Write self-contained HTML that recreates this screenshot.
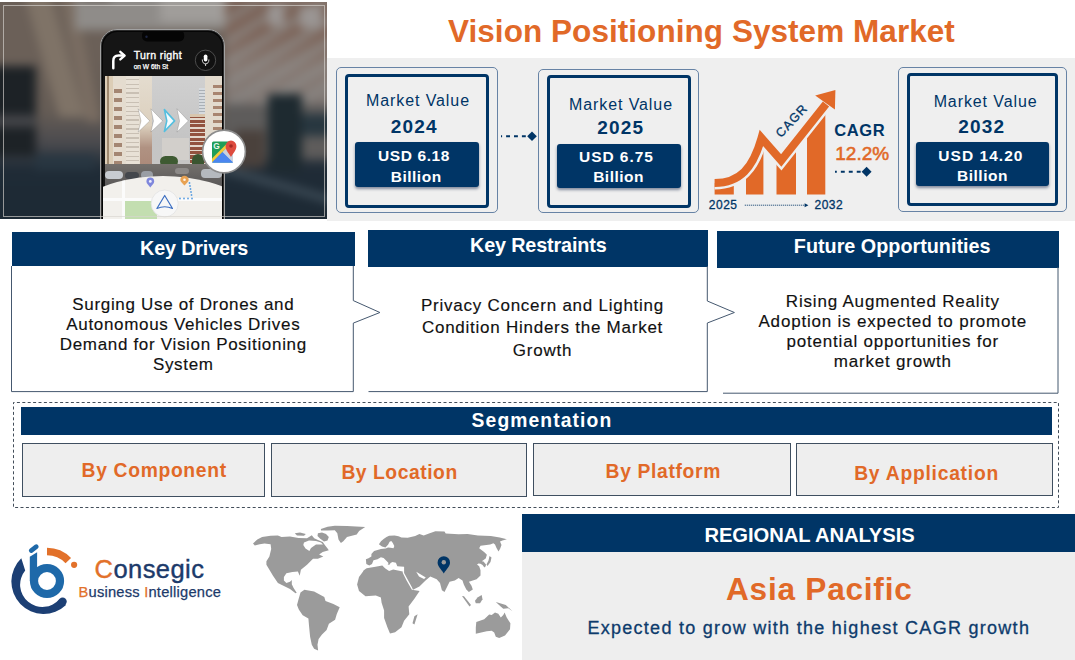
<!DOCTYPE html>
<html><head><meta charset="utf-8">
<style>
*{margin:0;padding:0;box-sizing:border-box}
html,body{width:1075px;height:660px;overflow:hidden;background:#fff}
body{position:relative;font-family:"Liberation Sans",sans-serif}
.a{position:absolute}
.t{position:absolute;line-height:1;white-space:nowrap}
.c{position:absolute;line-height:1;white-space:nowrap;text-align:center;width:300px}
.nv{color:#003566}
.or{color:#e16928}
.b{font-weight:700}
.hdr{position:absolute;background:#003566}
.ob{position:absolute;border:1px solid #6783a5;border-radius:5px}
.ib{position:absolute;border:3.4px solid #003566;border-radius:4px}
.vb{position:absolute;background:#003566;border-radius:3px;box-shadow:0 2px 3px rgba(0,20,60,.45)}
.seg{position:absolute;background:#eeeeee;border:1px solid #3f4f60}
.body{position:absolute;font-size:17px;letter-spacing:.68px;color:#111;text-align:center;white-space:nowrap;-webkit-text-stroke:.15px #111}
</style></head><body>

<!-- PHOTO -->
<div class="a" id="photo" style="left:0;top:1.5px;width:327px;height:217.5px;overflow:hidden;background:#4f4a47">
 <div class="a" style="left:-20px;top:-20px;width:370px;height:260px;filter:blur(5px)">
  <div class="a" style="left:0;top:0;width:370px;height:260px;background:linear-gradient(180deg,#5f544b 0,#6b6058 8%,#6b6058 28%,#655c55 50%,#4a4a4e 62%,#1f2b36 72%,#1b2833 100%)"></div>
  <div class="a" style="left:60px;top:0;width:26px;height:135px;background:#7f7367;transform:skewX(16deg)"></div>
  <div class="a" style="left:92px;top:0;width:14px;height:140px;background:#7a6d62;transform:skewX(12deg)"></div>
  <div class="a" style="left:0;top:84px;width:56px;height:90px;background:#1d2226"></div>
  <div class="a" style="left:10px;top:133px;width:45px;height:12px;background:#45464a"></div>
  <div class="a" style="left:95px;top:0;width:175px;height:48px;background:#8f8c89"></div>
  <div class="a" style="left:100px;top:0;width:30px;height:18px;background:#5a4e46"></div>
  <div class="a" style="left:180px;top:0;width:80px;height:40px;background:#a09d9a"></div>
  <div class="a" style="left:245px;top:0;width:125px;height:125px;background:repeating-linear-gradient(-32deg,#7c6054 0,#7c6054 7px,#8b837e 9px,#8b837e 16px,#7c6054 18px)"></div>
  <div class="a" style="left:245px;top:0;width:125px;height:125px;background:linear-gradient(180deg,rgba(120,100,90,.5) 0,rgba(120,100,90,.2) 40%,rgba(140,136,133,.6) 70%,rgba(130,127,125,.8) 100%)"></div>
  <div class="a" style="left:288px;top:22px;width:16px;height:22px;background:#9a9593"></div>
  <div class="a" style="left:320px;top:24px;width:22px;height:22px;background:#9a9593"></div>
  <div class="a" style="left:245px;top:122px;width:125px;height:55px;background:#5e5c5b"></div>
  <div class="a" style="left:288px;top:112px;width:34px;height:78px;background:#1e2a30"></div>
  <div class="a" style="left:322px;top:132px;width:48px;height:22px;background:#283740"></div>
  <div class="a" style="left:255px;top:148px;width:30px;height:38px;background:#4a413c"></div>
  <div class="a" style="left:235px;top:200px;width:135px;height:8px;background:#3b4954;transform:rotate(16deg)"></div>
  <div class="a" style="left:55px;top:172px;width:60px;height:16px;background:#283641"></div>
 </div>
  <!-- phone -->
 <div class="a" style="left:99.5px;top:27px;width:125.5px;height:200px;border-radius:17px 17px 0 0;background:#050505;border:1.2px solid #a2a2a2;box-shadow:inset 0 0 0 .8px #3a3a3a;overflow:hidden">
  <div class="a" style="left:2.3px;top:2.3px;width:119px;height:190px;border-radius:14.5px 14.5px 0 0;background:#151515;overflow:hidden">
   <!-- street -->
   <div class="a" style="left:2px;top:44.5px;width:117px;height:110px;background:linear-gradient(180deg,#d0d0d0,#c4c4c4 60%,#c8c6c4);overflow:hidden;filter:blur(.5px)">
    <div class="a" style="left:0;top:0;width:8px;height:110px;background:#dccdb6"></div>
    <div class="a" style="left:2px;top:0;width:2px;height:110px;background:#a08a70"></div>
    <div class="a" style="left:8px;top:0;width:27px;height:110px;background:#e4dccf"></div>
    <div class="a" style="left:9px;top:8px;width:8px;height:85px;background:repeating-linear-gradient(180deg,#e6dccf 0,#e6dccf 5px,#a48672 5px,#a48672 9px)"></div>
    <div class="a" style="left:21px;top:0;width:13px;height:110px;background:repeating-linear-gradient(180deg,#e8e1d6 0,#e8e1d6 3px,#c9c0b4 3px,#c9c0b4 4.5px)"></div>
    <div class="a" style="left:35px;top:0;width:12px;height:110px;background:linear-gradient(180deg,#e4dccf 0,#dcd0be 45%,#b09282 65%,#a68070 100%)"></div>
    <div class="a" style="left:94px;top:12px;width:7px;height:28px;background:repeating-linear-gradient(180deg,#d6dade 0,#d6dade 2px,#aab0b6 2px,#aab0b6 3px)"></div>
    <div class="a" style="left:57px;top:62px;width:27px;height:22px;background:#d2cfcb"></div>
    <div class="a" style="left:85px;top:39px;width:15px;height:50px;background:repeating-linear-gradient(180deg,#93533f 0,#93533f 3px,#e4d8cc 3px,#e4d8cc 4.5px)"></div>
    <div class="a" style="left:85px;top:38px;width:15px;height:3px;background:#d8c6ae"></div>
    <div class="a" style="left:100px;top:0;width:17px;height:100px;background:#e2dacd"></div>
    <div class="a" style="left:108px;top:5px;width:9px;height:85px;background:repeating-linear-gradient(180deg,#e2dacd 0,#e2dacd 4px,#a88570 4px,#a88570 7px)"></div>
    <div class="a" style="left:55px;top:80px;width:18px;height:11px;border-radius:6px;background:#3e5a32"></div>
    <div class="a" style="left:87px;top:78px;width:12px;height:16px;border-radius:6px;background:#3b5530"></div>
    <div class="a" style="left:0;top:88px;width:117px;height:22px;background:linear-gradient(180deg,#74706c,#5a5858)"></div>
    <div class="a" style="left:0;top:95px;width:18px;height:8px;border-radius:4px;background:#c7cbd0"></div>
    <div class="a" style="left:20px;top:96px;width:14px;height:7px;border-radius:4px;background:#44474c"></div>
    <div class="a" style="left:36px;top:95px;width:12px;height:8px;border-radius:4px;background:#9a9ea4"></div>
    <div class="a" style="left:70px;top:92px;width:14px;height:6px;border-radius:3px;background:#8d8a88"></div>
    <div class="a" style="left:96px;top:93px;width:21px;height:9px;border-radius:4px;background:#b5b9be"></div>
   </div>
   <!-- map -->
   <div class="a" style="left:-60px;top:144.5px;width:240px;height:160px;border-radius:50%;background:#f2f0ec;overflow:hidden">
    <div class="a" style="left:82px;top:24px;width:32px;height:25px;background:#c3deb0"></div>
    <div class="a" style="left:79px;top:0;width:3px;height:60px;background:#fbfbfb"></div>
    <div class="a" style="left:60px;top:22px;width:140px;height:2.5px;background:#fbfbfb"></div>
   </div>
   <svg class="a" style="left:0;top:0" width="119" height="190" viewBox="103 32 119 190">
    <rect x="142" y="30" width="42.2" height="11.4" rx="5" fill="#050505"/>
    <circle cx="146.5" cy="36.8" r="1.2" fill="#1d2540"/>
    <path d="M113.3,68.2 V61 Q113.3,55.6 118.5,55.6 H123.5" fill="none" stroke="#fff" stroke-width="2.5" stroke-linecap="round"/>
    <polyline points="120.3,51.8 124.6,55.6 120.3,59.4" fill="none" stroke="#fff" stroke-width="2.4" stroke-linecap="round" stroke-linejoin="round"/>
    <circle cx="205.5" cy="60.3" r="10.2" fill="#111" stroke="#5a5a5a" stroke-width="0.8"/>
    <rect x="203.8" y="54.5" width="3.6" height="7" rx="1.8" fill="#fff"/>
    <path d="M202.3,59.5 Q202.3,63.8 205.6,63.8 Q208.9,63.8 208.9,59.5" fill="none" stroke="#fff" stroke-width="0.8"/>
    <line x1="205.6" y1="63.8" x2="205.6" y2="66" stroke="#fff" stroke-width="0.8"/>
    <text x="133.7" y="58.9" font-family="Liberation Sans" font-size="10.6" letter-spacing=".35" fill="#fff" stroke="#fff" stroke-width=".35">Turn right</text>
    <text x="133.7" y="68.8" font-family="Liberation Sans" font-size="6.6" fill="#fff" stroke="#fff" stroke-width=".25">on W 6th St</text>
    <g fill="#fff" stroke="rgba(60,60,60,.35)" stroke-width=".6">
     <polygon points="138.2,108.8 149.7,120.9 138.2,132.1 141,120.9"/>
     <polygon points="150.9,108.8 162.6,120.9 150.9,132.1 153.5,120.9"/>
     <polygon points="164.4,109.6 174.6,120.9 164.4,131.4 166.8,120.9" fill="#f2fcff" stroke="#55bfdf" stroke-width="1.6" stroke-linejoin="round"/>
     <polygon points="177,108.8 188.3,120.9 177,132.1 179.6,120.9"/>
    </g>
    <path d="M150.3,187.6 C148.5,185 146.4,183.6 146.4,181.5 A3.9,3.9 0 0 1 154.2,181.5 C154.2,183.6 152.1,185 150.3,187.6 Z" fill="#7f87dc"/><circle cx="150.3" cy="181.4" r="1.4" fill="#eef"/>
    <path d="M184.5,185.6 C182.6,183 180.3,181.8 180.3,179.9 A4.2,4.2 0 0 1 188.7,179.9 C188.7,181.8 186.4,183 184.5,185.6 Z" fill="#e8a252"/><circle cx="184.5" cy="179.8" r="1.3" fill="#fff4e6"/>
    <g fill="#5b9ee0">
     <circle cx="189.5" cy="183" r="0.9"/><circle cx="190" cy="186" r="0.9"/><circle cx="190.5" cy="189" r="0.9"/><circle cx="191" cy="192" r="0.9"/><circle cx="191.5" cy="195" r="0.9"/><circle cx="192" cy="198.5" r="0.9"/>
     <circle cx="188" cy="198.5" r="0.9"/><circle cx="184" cy="198.5" r="0.9"/><circle cx="180" cy="198.5" r="0.9"/>
    </g>
    <circle cx="164.7" cy="203.5" r="13.5" fill="#f7f7f7" stroke="#e2e2e2" stroke-width="0.8"/>
    <path d="M164.7,195.5 L172.5,208.5 Q164.7,205 156.9,208.5 Z" fill="none" stroke="#3d6fc2" stroke-width="1.2" stroke-linejoin="round"/>
   </svg>
  </div>
 </div>
 <div class="a" style="left:2.5px;top:3px;width:322px;height:212px;border:1px solid rgba(215,212,208,.65)"></div>
 <!-- google maps circle -->
 <svg class="a" style="left:200px;top:126px" width="50" height="50" viewBox="200 127.5 50 50">
  <circle cx="224" cy="151" r="21.4" fill="#fff" stroke="#8c8c8c" stroke-width="1.6"/>
  <rect x="212" y="141" width="21" height="21" rx="1.5" fill="#1f9e58"/>
  <polygon points="212,162 233,141 233,162" fill="#4b86f0"/>
  <polygon points="212,162 212,158 229,141 233,141" fill="#f6cb3a"/>
  <polygon points="222.5,151.5 233,141 233,162 " fill="#d9d9d9" opacity=".9"/>
  <polygon points="212,162 222,152 233,162" fill="#4b86f0"/>
  <path d="M231,156.5 C228,151.5 225.6,149.5 225.6,145.5 A5.4,5.4 0 0 1 236.4,145.5 C236.4,149.5 234,151.5 231,156.5 Z" fill="#dd4b3e"/>
  <circle cx="231" cy="145.5" r="1.8" fill="#a52a23"/>
  <text x="213.3" y="148.9" font-family="Liberation Sans" font-weight="700" font-size="8.4" fill="#e8f5ec">G</text>
 </svg>
</div>

<!-- TITLE -->
<div class="t b or" style="left:448px;top:16px;font-size:31.5px;letter-spacing:.05px">Vision Positioning System Market</div>

<!-- GRAY BAND -->
<div class="a" style="left:327px;top:58px;width:748px;height:163px;background:#efefef"></div>

<!-- MARKET BOXES -->
<div class="ob" style="left:336px;top:67px;width:161.5px;height:145.5px"></div>
<div class="ib" style="left:345px;top:74px;width:144px;height:134px"></div>
<div class="vb" style="left:355px;top:142px;width:124px;height:44.6px"></div>

<div class="ob" style="left:537.7px;top:68.5px;width:161.3px;height:144.6px"></div>
<div class="ib" style="left:547px;top:75px;width:144px;height:133.3px"></div>
<div class="vb" style="left:556.6px;top:143.6px;width:124.8px;height:44.1px"></div>

<div class="ob" style="left:898px;top:66.5px;width:168.5px;height:145px"></div>
<div class="ib" style="left:906.5px;top:73.3px;width:151.3px;height:132.7px"></div>
<div class="vb" style="left:916px;top:142px;width:132.8px;height:44px"></div>

<!-- KEY HEADERS -->
<div class="hdr" style="left:11.5px;top:232.4px;width:343.2px;height:34.1px"></div>
<div class="hdr" style="left:368.4px;top:230.4px;width:339.9px;height:36.4px"></div>
<div class="hdr" style="left:717.4px;top:231px;width:341.6px;height:36.8px"></div>

<!-- SEGMENTATION -->
<div class="hdr" style="left:20.9px;top:407.3px;width:1031.4px;height:27.8px"></div>
<div class="seg" style="left:22.2px;top:442.8px;width:243.1px;height:53.9px"></div>
<div class="seg" style="left:271.3px;top:443.3px;width:255.9px;height:53.3px"></div>
<div class="seg" style="left:533.2px;top:443.2px;width:257.5px;height:53.3px"></div>
<div class="seg" style="left:796.1px;top:443.2px;width:256.7px;height:53.1px"></div>

<!-- REGIONAL -->
<div class="hdr" style="left:522.1px;top:513.8px;width:553px;height:37.9px"></div>
<div class="a" style="left:522.1px;top:551.7px;width:553px;height:110px;background:#eeeeee"></div>

<!-- VECTOR OVERLAY -->
<svg class="a" style="left:0;top:0" width="1075" height="660" viewBox="0 0 1075 660">
 <g fill="none" stroke="#45586f" stroke-width="1">
  <polyline points="11.5,266 11.5,391.6 353.3,391.6 353.3,323.1 379.9,312.5 353.3,300.6 353.3,266"/>
  <polyline points="368.5,391.6 707.3,391.6 707.3,323 734.4,312.5 707.3,301 707.3,266"/>
  <polyline points="723,393.2 1058,393.2 1058,267"/>
 </g>
 <rect x="13.5" y="402.5" width="1045" height="105" fill="none" stroke="#434e5a" stroke-width="1" stroke-dasharray="3 2.4" stroke-dashoffset="2"/>
 <!-- connector 1 -->
 <line x1="501" y1="136.25" x2="528" y2="136.25" stroke="#003566" stroke-width="2" stroke-dasharray="3.9 4" stroke-dashoffset="2.8"/>
 <rect x="528.6" y="132.8" width="6.8" height="6.8" fill="#003566" transform="rotate(45 532 136.2)"/>
 <!-- connector 2 -->
 <line x1="835" y1="171.7" x2="862" y2="171.7" stroke="#003566" stroke-width="2" stroke-dasharray="3.9 4.05" stroke-dashoffset="2.1"/>
 <rect x="863.1" y="168.2" width="7" height="7" fill="#003566" transform="rotate(45 866.6 171.7)"/>
 <!-- CAGR chart -->
 <defs>
  <clipPath id="cl"><path d="M714.6,183 C740,183 753,168 761.5,138 L781.2,160.4 L826,104 L840,104 L840,200 L700,200 L700,183 Z"/></clipPath>
 </defs>
 <g clip-path="url(#cl)" fill="#e16928">
  <rect x="714.6" y="170" width="19.2" height="24.5"/>
  <rect x="746" y="120" width="17.4" height="74.5"/>
  <rect x="776.5" y="120" width="19.5" height="74.5"/>
  <rect x="807" y="90" width="18.3" height="104.5"/>
 </g>
 <path d="M714.6,183 C740,183 753,168 761.5,138 L781.2,160.4 L826,104" fill="none" stroke="#efefef" stroke-width="13" stroke-linejoin="miter"/>
 <path d="M714.6,183 C740,183 753,168 761.5,138 L781.2,160.4 L826,104" fill="none" stroke="#e16928" stroke-width="8" stroke-linejoin="miter" stroke-miterlimit="10"/>
 <polygon points="815.2,95.5 835.4,89.9 834.9,109.4" fill="#e16928"/>
 <line x1="744.8" y1="205.2" x2="805" y2="205.2" stroke="#003566" stroke-width="1" stroke-dasharray="1 1"/>
 <polygon points="804.6,203.3 808.4,205.2 804.6,207.2" fill="#003566"/>
</svg>

<!-- BOX TEXTS -->
<div class="c nv" style="left:268px;top:93.3px;font-size:16px;letter-spacing:.9px">Market Value</div>
<div class="c nv b" style="left:264.3px;top:117.1px;font-size:19px;letter-spacing:1.2px">2024</div>
<div class="c b" style="left:264px;top:148.3px;font-size:15.5px;letter-spacing:.6px;color:#fff">USD 6.18</div>
<div class="c b" style="left:266.2px;top:168.7px;font-size:15.5px;letter-spacing:.5px;color:#fff">Billion</div>

<div class="c nv" style="left:471px;top:97.4px;font-size:16px;letter-spacing:.9px">Market Value</div>
<div class="c nv b" style="left:470.7px;top:117.5px;font-size:19px;letter-spacing:1.2px">2025</div>
<div class="c b" style="left:466.4px;top:149.4px;font-size:15.5px;letter-spacing:.95px;color:#fff">USD 6.75</div>
<div class="c b" style="left:468.6px;top:169.3px;font-size:15.5px;letter-spacing:.5px;color:#fff">Billion</div>

<div class="c nv" style="left:835.6px;top:94.3px;font-size:16px;letter-spacing:.9px">Market Value</div>
<div class="c nv b" style="left:831.8px;top:117px;font-size:19px;letter-spacing:1.2px">2032</div>
<div class="c b" style="left:830.9px;top:148.3px;font-size:15.5px;letter-spacing:1.05px;color:#fff">USD 14.20</div>
<div class="c b" style="left:832.5px;top:168.1px;font-size:15.5px;letter-spacing:.5px;color:#fff">Billion</div>

<!-- CAGR texts -->
<div class="t nv" style="left:792px;top:121px;font-size:12.5px;letter-spacing:1px;-webkit-text-stroke:.3px #003566;transform:translate(-50%,-50%) rotate(-47deg)">CAGR</div>
<div class="t nv" style="left:708.8px;top:198.8px;font-size:12px;letter-spacing:.5px;-webkit-text-stroke:.3px #003566">2025</div>
<div class="t nv" style="left:814.5px;top:198.8px;font-size:12px;letter-spacing:.5px;-webkit-text-stroke:.3px #003566">2032</div>
<div class="t nv b" style="left:834.3px;top:122.2px;font-size:16.5px;letter-spacing:.6px">CAGR</div>
<div class="t or" style="left:835.3px;top:144px;font-size:19px;-webkit-text-stroke:.55px #e16928">12.2%</div>

<!-- KEY TEXTS -->
<div class="t b" style="left:140px;top:238.84px;font-size:19.8px;letter-spacing:-.16px;color:#fff">Key Drivers</div>
<div class="t b" style="left:470px;top:236.04px;font-size:19.8px;letter-spacing:-.14px;color:#fff">Key Restraints</div>
<div class="t b" style="left:793.8px;top:236.74px;font-size:19.8px;letter-spacing:0;color:#fff">Future Opportunities</div>

<div class="body" style="left:33.3px;width:300px;top:295px;line-height:20px">Surging Use of Drones and<br>Autonomous Vehicles Drives<br>Demand for Vision Positioning<br>System</div>
<div class="body" style="left:392.5px;width:300px;top:294.8px;line-height:22.5px;letter-spacing:.75px">Privacy Concern and Lighting<br>Condition Hinders the Market<br>Growth</div>
<div class="body" style="left:742.8px;width:300px;top:292px;line-height:19.9px;letter-spacing:.8px">Rising Augmented Reality<br>Adoption is expected to promote<br>potential opportunities for<br>market growth</div>

<!-- SEGMENTATION TEXTS -->
<div class="t b" style="left:471.6px;top:411.4px;font-size:19.3px;letter-spacing:1.1px;color:#fff">Segmentation</div>
<div class="t b or" style="left:81.6px;top:461.36px;font-size:19.3px;letter-spacing:.67px">By Component</div>
<div class="t b or" style="left:341.4px;top:463.26px;font-size:19.3px;letter-spacing:.55px">By Location</div>
<div class="t b or" style="left:605.6px;top:462.26px;font-size:19.3px;letter-spacing:.65px">By Platform</div>
<div class="t b or" style="left:854.2px;top:464.36px;font-size:19.3px;letter-spacing:.75px">By Application</div>

<!-- REGIONAL TEXTS -->
<div class="t b" style="left:704.4px;top:524.7px;font-size:20.2px;letter-spacing:-.06px;color:#fff">REGIONAL ANALYSIS</div>
<div class="t b or" style="left:726px;top:573.55px;font-size:31.6px;letter-spacing:.76px">Asia Pacific</div>
<div class="t" style="left:587.4px;top:619px;font-size:18px;letter-spacing:1.28px;color:#0d3b6c;-webkit-text-stroke:.3px #0d3b6c">Expected to grow with the highest CAGR growth</div>

<!-- LOGO -->
<svg class="a" style="left:0;top:520px" width="90" height="110" viewBox="0 520 90 110">
 <path d="M21.3,558.3 A31,31 0 1 0 66,604.9 L59.5,598.9 A22,22 0 0 1 25.2,570.5 Z" fill="#1c3f74"/>
 <circle cx="62.6" cy="601.6" r="4.15" fill="#1c3f74"/>
 <path d="M47,551.5 A29.5,29.5 0 0 1 68.3,560.6" fill="none" stroke="#e2712a" stroke-width="7.6"/>
 <circle cx="74.1" cy="564.8" r="3.1" fill="#e2712a"/>
 <circle cx="47" cy="581" r="13" fill="none" stroke="#1e69a9" stroke-width="8.2"/>
 <path d="M29.8,581 V556.8 L37.1,552.2 V581 Z" fill="#1e69a9"/>
 <line x1="31.2" y1="550.6" x2="36.3" y2="546.6" stroke="#1e69a9" stroke-width="4.6" stroke-linecap="round"/>
</svg>
<div class="t" style="left:94.5px;top:556.5px;font-size:25.5px;letter-spacing:.45px;-webkit-text-stroke:.4px #1c3a6a;color:#1c3a6a"><span style="color:#e2712a;-webkit-text-stroke-color:#e2712a">C</span>onsegic</div>
<div class="t" style="left:78.5px;top:585.2px;font-size:14.7px;letter-spacing:.22px;-webkit-text-stroke:.25px #1c3a6a;color:#1c3a6a"><span style="color:#e2712a;-webkit-text-stroke-color:#e2712a">B</span>usiness <span style="color:#e2712a;-webkit-text-stroke-color:#e2712a">I</span>ntelligence</div>

<!-- WORLD MAP -->
<svg class="a" style="left:240px;top:515px" width="280" height="145" viewBox="240 515 280 145">
 <g fill="#9b9b9b">
  <polygon points="253.0,543.6 257.3,539.4 262.1,537 270.6,535.8 277.9,535.5 281.5,537 290,536.4 298.5,538 307,538.2 311.8,535.2 314.2,538.2 318,540 322.7,542 325.2,545.5 327.6,548.5 328.8,550.3 322.7,552.1 319.1,554.5 323.3,556.4 317.9,558.8 313,558.8 307,564.8 300.9,569.7 299.7,575.8 297.9,571.5 292.4,572.1 286.4,573.3 283.9,577 283.9,580.6 286.4,583 290,581.8 291.8,580 291.8,584.2 293.6,587.9 296.7,592.7 295.5,593.3 290,589.1 283.9,586.1 277.9,583 273,575.8 269.4,569.7 266.4,564.8 266.4,561.2 269.4,556.4 271.2,549.1 270.6,544.2 264.5,543.6 259.7,544.2 254.8,545.5"/>
  <polygon points="294.8,533.2 300,532.6 305.8,534 304,535.8 297,535.5"/>
  <polygon points="317.9,533.3 322,532.5 326,534 328.8,537 327.5,540.5 324,541.5 320,538.5 317.5,536"/>
  <polygon points="320.9,529.1 327.6,526.7 334.8,525.8 347,526.1 365.2,527 359.1,530.9 356.7,534.5 347,537 343.3,541.2 340.9,543 338.5,539.4 337.3,533.3 334.8,530.2 327.6,530.4 321,530.6"/>
  <polygon points="300.5,592.5 304.4,589.7 314.1,591.4 324.3,597 325.5,601 333.4,603.9 339.7,607.3 336.8,614.1 335.1,619.8 328.9,623.8 326.6,630 322,634.5 318.6,639.1 317.5,644.8 318.1,650.5 314.1,648.8 311.8,644.8 310.1,636.8 309,625.5 308.4,618.6 302.7,615.2 298.8,609.5 297,605 298.2,600.5"/>
  <polygon points="363.5,570.5 366.6,568.2 375.5,566.8 382.3,565.5 385,568.2 389.1,570.9 393.2,569.6 402.7,571.6 402.8,573 406.7,580.8 411.9,589.8 419.6,591.1 414.4,598.8 408.6,606.5 409.3,614.3 404.1,620.7 401.5,627.2 395.1,632.3 390,633.6 387.4,627.2 384.1,618.1 384.1,610.4 381.6,602.7 380.9,597.5 375.8,595.6 365.5,596.2 359,591.1 357.1,584.6 359,576.9 362.9,571.8"/>
  <polygon points="417.6,614.3 414.4,624.6 412.5,623.3 414.4,616.2"/>
  <polygon points="378.9,544.2 381,541.2 383.6,538.9 386.5,537 389.1,535.8 394.6,535.5 398.5,536.2 401.4,537.5 407.7,537.7 415.2,536.1 419.4,534 423.7,535.6 429,533.5 435.4,531.3 444.5,531.6 445.7,533.5 458.6,534.2 467.6,533.9 477.9,535.4 490.8,536.1 499.8,537.4 506.9,539.3 502.4,540.6 500,541.5 501.5,545 500,549 498.5,551.5 496.5,548 495,544.5 493.4,543.2 490.2,544.5 480.5,545.7 479.2,548.3 484.4,552.2 486.9,554.8 485.7,558.6 481.8,561.2 483.5,561.5 486,564.5 485.7,566.3 484.4,567.6 482.5,565 480.5,563.8 478.5,563.5 477,564.5 479.2,566.3 480.5,570.2 480.5,575.4 476.6,579.2 472.8,580.5 468.9,581.8 471.5,585.7 472.8,589.5 468.9,592.1 466.3,589.5 463.8,584.4 462.5,580.5 458.6,577.9 454.8,580.5 449.6,581.8 447,586.9 444.5,592.1 441.9,590.2 440,583.1 436.7,579.2 430.3,576.6 425.8,580.2 419.4,586.5 413,589.7 411.9,587.2 404.1,573 404.1,566.8 397.3,566.2 395.9,562.7 392.5,562.1 390.5,563 389.8,564.5 387.7,564.8 388.5,563 387.1,561.4 383.6,558 380.9,557.3 377.5,559.3 373.5,560.3 372,564.1 369.3,565.5 366.3,564.1 365.9,559.3 368.5,558.3 371.4,556.5 371.4,553.9 374.1,551.1 380.9,549.1 385.7,548.4 388,547.5 390.5,547.7 393.5,548.3 394.3,546 392.8,543 391.3,541 389.6,541.8 388.2,544.5 385.5,547.5 382,546.5"/>
        <polygon points="462,596 464,596.3 471,605 469.5,606.5"/>
  <polygon points="489.5,556 491.5,557.5 490.5,562 487.5,566 486.5,564.5 488.5,560.5"/>
  <polygon points="475,600.8 477.5,597.5 481.7,595 482.5,599.2 480,603.3 475.8,603.3"/>
  <polygon points="495.8,602.1 500,603.3 505.8,605 512.5,611.3 508.3,608.3 503.3,608.8 500.4,606.3"/>
  <polygon points="476.3,622.1 484.2,619.2 489.2,614.6 491.7,615 495,612.5 498.3,613.8 500.8,617.5 503.3,615 504.6,612.5 506.7,617.5 510.4,623.3 510,629.2 505,635.4 499.2,637.9 495.8,636.7 494.2,632.5 491.7,630.8 486.7,631.3 475.8,633.8 475.8,627.5"/>
 </g>
 <g fill="#fff">
  <polygon points="304,542.5 309,540.5 316,541 321,542.5 323,544.5 316,544.5 311,548 309.4,550.9 305.5,548.5 303.3,545"/>
  <polygon points="416.2,571.7 420,574 425.8,577.5 424,579 419,576.5"/>
 </g>
 <path d="M443.8,573.4 C441,569 437.6,566.5 437.6,562.5 A6.2,6.2 0 0 1 450,562.5 C450,566.5 446.6,569 443.8,573.4 Z" fill="#003566"/>
 <circle cx="443.8" cy="562.3" r="2.2" fill="#9b9b9b"/>
</svg>

</body></html>
